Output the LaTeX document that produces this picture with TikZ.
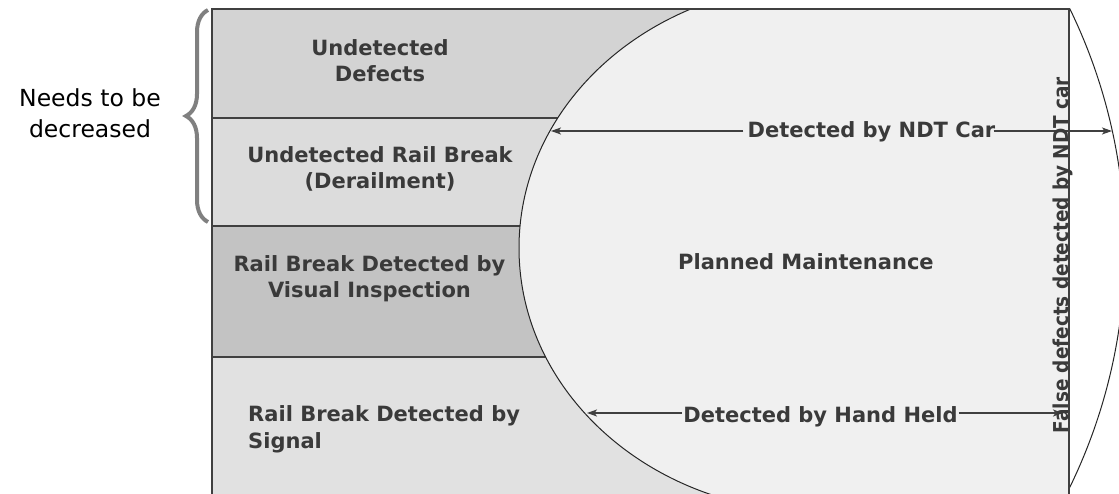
\documentclass[tikz,border=0pt]{standalone}
\usepackage{fontspec}
\setmainfont{DejaVu Sans}
\newfontfamily\sidefont{DejaVu Sans Condensed}
\usetikzlibrary{arrows.meta,decorations.pathreplacing}
\definecolor{blkA}{HTML}{D3D3D3}
\definecolor{blkB}{HTML}{DCDCDC}
\definecolor{blkC}{HTML}{C3C3C3}
\definecolor{blkD}{HTML}{E1E1E1}
\definecolor{inner}{HTML}{F0F0F0}
\definecolor{edge}{HTML}{404040}
\definecolor{ink}{HTML}{3A3A3A}
\definecolor{bracegray}{HTML}{808080}
\tikzset{
  lbl/.style={inner sep=0pt, text=ink, font=\bfseries\fontsize{21}{26.5}\selectfont},
  side/.style={inner sep=0pt, text=black, font=\fontsize{23.5}{31}\selectfont, align=center},
  vlbl/.style={inner sep=0pt, text=ink, font=\sidefont\bfseries\fontsize{20.5}{26}\selectfont},
  arr/.style={draw=edge, line width=1.3pt, -{Stealth[length=10pt,width=7pt,inset=2.5pt]}},
  divider/.style={draw=edge, line width=1.6pt},
  border/.style={draw=edge, line width=2.2pt},
  outline/.style={draw=black!85, line width=1pt},
}
\begin{document}
\begin{tikzpicture}[x=1pt,y=1pt]
\useasboundingbox (0,0) rectangle (1119,493);
\clip (0,0) rectangle (1119,493);

% stacked outcome bands
\fill[blkA] (212,375) rectangle (1069,484);
\fill[blkB] (212,267) rectangle (1069,375);
\fill[blkC] (212,136) rectangle (1069,267);
\fill[blkD] (212,-10) rectangle (1069,136);
\draw[divider] (212,375) -- (1069,375);
\draw[divider] (212,267) -- (1069,267);
\draw[divider] (212,136) -- (1069,136);

% planned maintenance region, bounded on the left by an elliptic arc
\begin{scope}
  \clip (212,-10) rectangle (1069,484);
  \fill[inner] (818,509) arc[start angle=90, end angle=270, x radius=299pt, y radius=264pt]
        -- (1200,-19) -- (1200,509) -- cycle;
  \draw[outline] (818,509) arc[start angle=90, end angle=270, x radius=299pt, y radius=264pt];
\end{scope}

% false-defect lens to the right of the frame
\begin{scope}
  \clip (1069,-10) rectangle (1130,484);
  \draw[outline] (579,245) ++(30:546pt) arc[start angle=30, end angle=-30, radius=546pt];
\end{scope}

% frame
\draw[border] (212,-10) -- (212,484) -- (1069,484) -- (1069,-10);

% brace and its note (node base = last line)
\draw[bracegray, line width=4pt, decorate, decoration={brace, amplitude=22pt}]
  (208,271) -- (208,483);
\node[side, anchor=base] (note) at (90,355) {Needs to be\\decreased};

% band labels
\node[lbl, align=center, anchor=base] (undef) at (380,411) {Undetected\\Defects};
\node[lbl, align=center, anchor=base] (urb) at (380,304) {Undetected Rail Break\\(Derailment)};
\node[lbl, align=center, anchor=base] (vis) at (369.5,195) {Rail Break Detected by\\Visual Inspection};
\node[lbl, align=left, anchor=base west] (sig) at (248,45) {Rail Break Detected by\\Signal};
\node[lbl, anchor=base west] (pm) at (678,223) {Planned Maintenance};

% dimension labels with arrows
\node[lbl, anchor=base, inner xsep=4pt] (ndt) at (871.5,355) {Detected by NDT Car};
\node[lbl, anchor=base, inner xsep=1pt] (hh) at (820.5,71) {Detected by Hand Held};
\coordinate (ndtL) at (551,362);
\coordinate (ndtR) at (1112,362);
\coordinate (hhL) at (587,80);
\coordinate (hhR) at (1063,80);
\draw[arr] (ndt.west |- ndtL) -- (ndtL);
\draw[arr] ([xshift=-6pt]ndt.east |- ndtR) -- (ndtR);
\draw[arr] (hh.west |- hhL) -- (hhL);
\draw[arr] (hh.east |- hhR) -- (hhR);

% vertical note along the right edge
\node[vlbl, rotate=90, anchor=base] (fd) at (1068,238) {False defects detected by NDT car};
\end{tikzpicture}
\end{document}
